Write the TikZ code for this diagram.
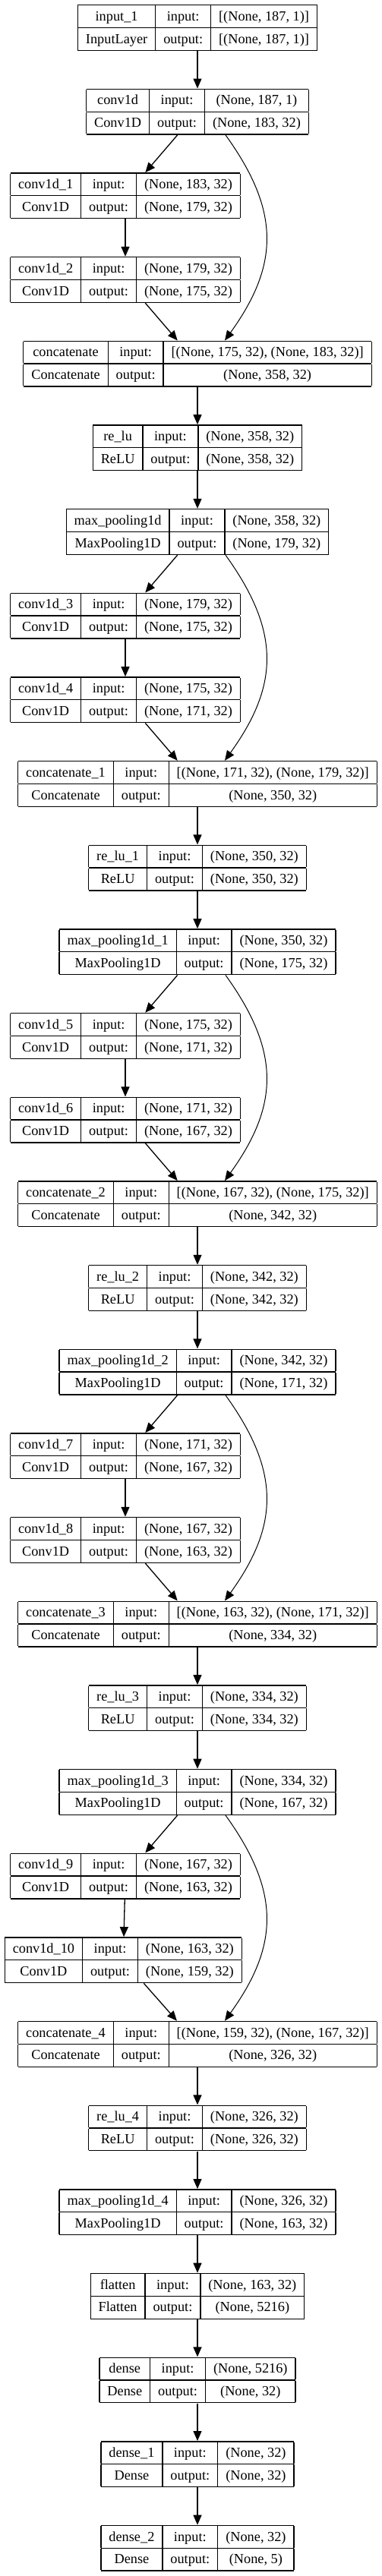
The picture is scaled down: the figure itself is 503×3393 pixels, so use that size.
\documentclass[tikz,border=0pt]{standalone}
\usepackage{fontspec}
\setmainfont{Liberation Serif}
\usetikzlibrary{arrows.meta, positioning}

\setlength{\arrayrulewidth}{1.3pt}
\setlength{\tabcolsep}{10.5pt}
\newcommand{\layertab}[4]{%
\begin{tabular}{|c|c|c|}
\hline #1 & input: & #3\\
\hline #2 & output: & #4\\
\hline
\end{tabular}}

\tikzstyle{layer} = [
    rectangle,
    inner sep=0pt,
    font=\fontsize{18.3pt}{28.5pt}\selectfont
]
\tikzstyle{arrow} = [line width=1.3pt,-{Triangle[length=13pt,width=11pt]}]
\tikzstyle{skip} = [line width=1pt,-{Triangle[length=13pt,width=11pt]}]

\begin{document}
\begin{tikzpicture}[node distance=110.66pt]

\useasboundingbox (0,0) rectangle (503pt,-3393pt);

\node (in1) [layer] at (260pt,-36.5pt)
{\layertab{input\_1}{InputLayer}{[(None, 187, 1)]}{[(None, 187, 1)]}};

\node (conv0) [layer, below of=in1]
{\layertab{conv1d}{Conv1D}{(None, 187, 1)}{(None, 183, 32)}};

\node (conv1) [layer, below of=conv0, xshift=-95pt]
{\layertab{conv1d\_1}{Conv1D}{(None, 183, 32)}{(None, 179, 32)}};

\node (conv2) [layer, below of=conv1]
{\layertab{conv1d\_2}{Conv1D}{(None, 179, 32)}{(None, 175, 32)}};

\node (cat0) [layer, below of=conv2, xshift=95pt]
{\layertab{concatenate}{Concatenate}{[(None, 175, 32), (None, 183, 32)]}{(None, 358, 32)}};

\node (relu0) [layer, below of=cat0]
{\layertab{re\_lu}{ReLU}{(None, 358, 32)}{(None, 358, 32)}};

\node (pool0) [layer, below of=relu0]
{\layertab{max\_pooling1d}{MaxPooling1D}{(None, 358, 32)}{(None, 179, 32)}};

% block 1
\node (conv3) [layer, below of=pool0, xshift=-95pt]
{\layertab{conv1d\_3}{Conv1D}{(None, 179, 32)}{(None, 175, 32)}};

\node (conv4) [layer, below of=conv3]
{\layertab{conv1d\_4}{Conv1D}{(None, 175, 32)}{(None, 171, 32)}};

\node (cat1) [layer, below of=conv4, xshift=95pt]
{\layertab{concatenate\_1}{Concatenate}{[(None, 171, 32), (None, 179, 32)]}{(None, 350, 32)}};

\node (relu1) [layer, below of=cat1]
{\layertab{re\_lu\_1}{ReLU}{(None, 350, 32)}{(None, 350, 32)}};

\node (pool1) [layer, below of=relu1]
{\layertab{max\_pooling1d\_1}{MaxPooling1D}{(None, 350, 32)}{(None, 175, 32)}};

% block 2
\node (conv5) [layer, below of=pool1, xshift=-95pt]
{\layertab{conv1d\_5}{Conv1D}{(None, 175, 32)}{(None, 171, 32)}};

\node (conv6) [layer, below of=conv5]
{\layertab{conv1d\_6}{Conv1D}{(None, 171, 32)}{(None, 167, 32)}};

\node (cat2) [layer, below of=conv6, xshift=95pt]
{\layertab{concatenate\_2}{Concatenate}{[(None, 167, 32), (None, 175, 32)]}{(None, 342, 32)}};

\node (relu2) [layer, below of=cat2]
{\layertab{re\_lu\_2}{ReLU}{(None, 342, 32)}{(None, 342, 32)}};

\node (pool2) [layer, below of=relu2]
{\layertab{max\_pooling1d\_2}{MaxPooling1D}{(None, 342, 32)}{(None, 171, 32)}};

% block 3
\node (conv7) [layer, below of=pool2, xshift=-95pt]
{\layertab{conv1d\_7}{Conv1D}{(None, 171, 32)}{(None, 167, 32)}};

\node (conv8) [layer, below of=conv7]
{\layertab{conv1d\_8}{Conv1D}{(None, 167, 32)}{(None, 163, 32)}};

\node (cat3) [layer, below of=conv8, xshift=95pt]
{\layertab{concatenate\_3}{Concatenate}{[(None, 163, 32), (None, 171, 32)]}{(None, 334, 32)}};

\node (relu3) [layer, below of=cat3]
{\layertab{re\_lu\_3}{ReLU}{(None, 334, 32)}{(None, 334, 32)}};

\node (pool3) [layer, below of=relu3]
{\layertab{max\_pooling1d\_3}{MaxPooling1D}{(None, 334, 32)}{(None, 167, 32)}};

% block 4
\node (conv9) [layer, below of=pool3, xshift=-95pt]
{\layertab{conv1d\_9}{Conv1D}{(None, 167, 32)}{(None, 163, 32)}};

\node (conv10) [layer, below of=conv9, xshift=-2.7pt]
{\layertab{conv1d\_10}{Conv1D}{(None, 163, 32)}{(None, 159, 32)}};

\node (cat4) [layer, below of=conv10, xshift=97.7pt]
{\layertab{concatenate\_4}{Concatenate}{[(None, 159, 32), (None, 167, 32)]}{(None, 326, 32)}};

\node (relu4) [layer, below of=cat4]
{\layertab{re\_lu\_4}{ReLU}{(None, 326, 32)}{(None, 326, 32)}};

\node (pool4) [layer, below of=relu4]
{\layertab{max\_pooling1d\_4}{MaxPooling1D}{(None, 326, 32)}{(None, 163, 32)}};

% head
\node (flat) [layer, below of=pool4]
{\layertab{flatten}{Flatten}{(None, 163, 32)}{(None, 5216)}};

\node (dense0) [layer, below of=flat]
{\layertab{dense}{Dense}{(None, 5216)}{(None, 32)}};

\node (dense1) [layer, below of=dense0]
{\layertab{dense\_1}{Dense}{(None, 32)}{(None, 32)}};

\node (dense2) [layer, below of=dense1]
{\layertab{dense\_2}{Dense}{(None, 32)}{(None, 5)}};

\draw [arrow] (in1) -- (conv0);
\draw [arrow] (conv0) -- (conv1);
\draw [arrow] (conv1) -- (conv2);
\draw [arrow] (conv2) -- (cat0);
\draw [skip] ([xshift=37pt]conv0.south) .. controls +(72pt,-100pt) and +(72pt,100pt) .. ([xshift=36pt]cat0.north);
\draw [arrow] (cat0) -- (relu0);
\draw [arrow] (relu0) -- (pool0);

\draw [arrow] (pool0) -- (conv3);
\draw [arrow] (conv3) -- (conv4);
\draw [arrow] (conv4) -- (cat1);
\draw [skip] ([xshift=37pt]pool0.south) .. controls +(72pt,-100pt) and +(72pt,100pt) .. ([xshift=36pt]cat1.north);
\draw [arrow] (cat1) -- (relu1);
\draw [arrow] (relu1) -- (pool1);

\draw [arrow] (pool1) -- (conv5);
\draw [arrow] (conv5) -- (conv6);
\draw [arrow] (conv6) -- (cat2);
\draw [skip] ([xshift=37pt]pool1.south) .. controls +(72pt,-100pt) and +(72pt,100pt) .. ([xshift=36pt]cat2.north);
\draw [arrow] (cat2) -- (relu2);
\draw [arrow] (relu2) -- (pool2);

\draw [arrow] (pool2) -- (conv7);
\draw [arrow] (conv7) -- (conv8);
\draw [arrow] (conv8) -- (cat3);
\draw [skip] ([xshift=37pt]pool2.south) .. controls +(72pt,-100pt) and +(72pt,100pt) .. ([xshift=36pt]cat3.north);
\draw [arrow] (cat3) -- (relu3);
\draw [arrow] (relu3) -- (pool3);

\draw [arrow] (pool3) -- (conv9);
\draw [arrow] (conv9) -- (conv10);
\draw [arrow] (conv10) -- (cat4);
\draw [skip] ([xshift=37pt]pool3.south) .. controls +(72pt,-100pt) and +(72pt,100pt) .. ([xshift=36pt]cat4.north);
\draw [arrow] (cat4) -- (relu4);
\draw [arrow] (relu4) -- (pool4);

\draw [arrow] (pool4) -- (flat);
\draw [arrow] (flat) -- (dense0);
\draw [arrow] (dense0) -- (dense1);
\draw [arrow] (dense1) -- (dense2);

\end{tikzpicture}
\end{document}
